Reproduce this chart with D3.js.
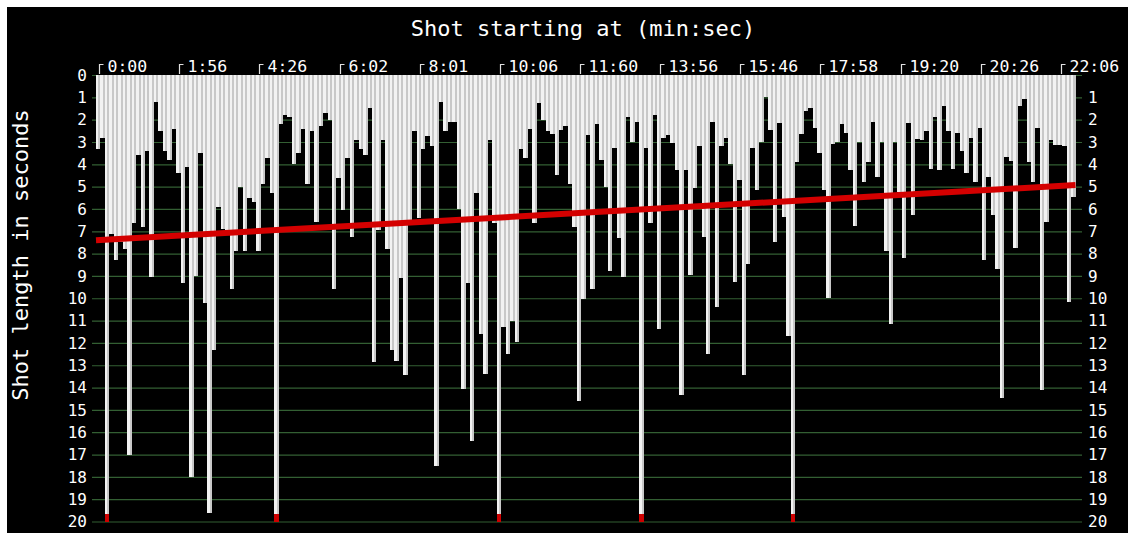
<!DOCTYPE html>
<html><head><meta charset="utf-8">
<script src="https://cdn.jsdelivr.net/npm/d3@7"></script>
<style>html,body{margin:0;padding:0;background:#fff;} svg{display:block}</style>
</head><body>
<svg id="c" width="1134" height="537"></svg>
<script>
// Shot lengths in seconds (values above 20 are clipped and flagged red)
const shotLengths = [
3.3,2.8,22,7.1,8.3,7.5,7.8,17.0,6.65,3.6,6.8,3.4,9.05,1.2,2.5,3.4,3.8,2.4,
4.4,9.3,4.1,18.0,9.0,3.5,10.2,19.6,12.3,5.9,6.9,7.1,9.6,7.9,5.0,7.9,5.5,5.7,
7.9,4.9,3.7,5.3,22,2.2,1.8,1.9,4.0,3.5,2.4,4.9,2.5,6.6,2.3,1.7,2.0,9.6,
4.6,6.05,3.7,7.25,2.9,3.3,3.6,1.5,12.85,6.95,2.9,7.8,12.3,12.8,9.1,13.45,6.65,2.5,
6.4,3.3,2.75,3.2,17.5,1.2,2.5,2.1,2.1,6.0,14.05,9.3,16.4,5.3,11.6,13.4,2.9,6.65,
22,11.3,12.5,11.0,11.95,3.3,3.7,2.4,6.65,1.27,2.0,2.5,2.65,4.5,2.45,2.3,4.9,6.8,
14.6,10.05,2.7,9.6,2.2,3.8,5.0,8.77,3.29,7.28,9.04,1.9,2.99,2.09,22,3.29,6.65,1.79,
11.36,2.8,2.7,3.06,4.26,14.35,4.26,8.97,5.08,3.18,7.25,12.48,2.09,10.39,3.18,2.8,4.0,9.27,
4.7,13.45,8.47,3.29,5.16,2.99,1.0,2.47,7.47,2.17,6.35,11.7,22,3.89,2.65,1.6,1.5,2.39,
3.48,5.16,9.97,3.09,2.99,2.2,2.59,4.26,6.76,2.99,4.78,3.89,2.09,4.56,2.99,7.88,11.17,2.99,
5.23,8.18,2.17,6.28,2.88,2.91,2.5,4.19,1.9,4.26,1.39,2.5,4.19,2.59,3.39,4.38,2.8,4.78,
2.39,8.27,4.59,6.28,8.67,14.45,3.66,3.84,7.77,1.39,1.09,3.89,4.78,2.39,14.13,6.58,2.9,3.14,
3.14,3.18,10.16,5.46
];
const tickShots = [0,18,36,54,72,90,108,126,144,162,180,198,216];
const tickLabels = ["0:00","1:56","4:26","6:02","8:01","10:06","11:60","13:56","15:46","17:58","19:20","20:26","22:06"];
const yTickValues = [0,1,2,3,4,5,6,7,8,9,10,11,12,13,14,15,16,17,18,19,20];
const trendEnds = [7.4, 4.93];

const svg = d3.select("#c");
const FONT = "'DejaVu Sans Mono', 'Liberation Mono', monospace";

svg.append("rect").attr("x",7).attr("y",7).attr("width",1121).attr("height",526).attr("fill","#000");

const n = shotLengths.length;
const x = d3.scaleLinear().domain([0, n]).range([96, 1075.5]);
const y = d3.scaleLinear().domain([0, 20]).range([75, 521.5]);
const bw = x(1) - x(0);

// grid lines
svg.append("g").selectAll("line").data(yTickValues).join("line")
  .attr("x1", 92).attr("x2", 1082)
  .attr("y1", d => y(d) + 0.5).attr("y2", d => y(d) + 0.5)
  .attr("stroke", "#335f33").attr("stroke-width", 1.2);

// bars: white left part, grey right part
const bars = svg.append("g").attr("shape-rendering","crispEdges");
bars.selectAll("rect.w").data(shotLengths).join("rect").attr("class","w")
  .attr("x", (d,i) => x(i)).attr("width", bw*0.55)
  .attr("y", y(0)).attr("height", d => y(Math.min(d,20)) - y(0))
  .attr("fill", "#f2f2f2");
bars.selectAll("rect.g").data(shotLengths).join("rect").attr("class","g")
  .attr("x", (d,i) => x(i) + bw*0.55).attr("width", bw*0.45)
  .attr("y", y(0)).attr("height", d => y(Math.min(d,20)) - y(0))
  .attr("fill", "#c8c8c8");
// clipped markers
bars.selectAll("rect.r").data(shotLengths.map((d,i)=>({d,i})).filter(o=>o.d>20)).join("rect").attr("class","r")
  .attr("x", o => x(o.i)).attr("width", bw)
  .attr("y", y(19.68)).attr("height", y(20) - y(19.68))
  .attr("fill", "#cc0000");

// trend line
svg.append("line")
  .attr("x1", x(0)).attr("y1", y(trendEnds[0]))
  .attr("x2", x(n)).attr("y2", y(trendEnds[1]))
  .attr("stroke", "#d40000").attr("stroke-width", 6);

// y labels left and right
svg.append("g").selectAll("text").data(yTickValues).join("text")
  .attr("x", 87).attr("y", d => y(d)).attr("dy","0.36em")
  .attr("text-anchor","end").attr("fill","#fff")
  .attr("font-family",FONT).attr("font-size",16).text(d => d);
svg.append("g").selectAll("text").data(yTickValues.slice(1)).join("text")
  .attr("x", 1088).attr("y", d => y(d)).attr("dy","0.36em")
  .attr("text-anchor","start").attr("fill","#fff")
  .attr("font-family",FONT).attr("font-size",16).text(d => d);

// top ticks
const tg = svg.append("g").selectAll("g").data(tickShots).join("g")
  .attr("transform", d => `translate(${Math.round(x(d + 0.7)) + 0.5},0)`);
tg.append("path").attr("d","M0,74V64.5H4").attr("fill","none").attr("stroke","#e0e0e0").attr("stroke-width",1.2);
tg.append("text").attr("x",8).attr("y",72).attr("fill","#fff")
  .attr("font-family",FONT).attr("font-size",16.5)
  .text((d,i) => tickLabels[i]);

// titles
svg.append("text").attr("x", 583).attr("y", 36).attr("text-anchor","middle")
  .attr("fill","#fff").attr("font-family",FONT).attr("font-size",22)
  .text("Shot starting at (min:sec)");
svg.append("text").attr("transform","translate(28,255) rotate(-90)").attr("text-anchor","middle")
  .attr("fill","#fff").attr("font-family",FONT).attr("font-size",22)
  .text("Shot length in seconds");
</script>
</body></html>
